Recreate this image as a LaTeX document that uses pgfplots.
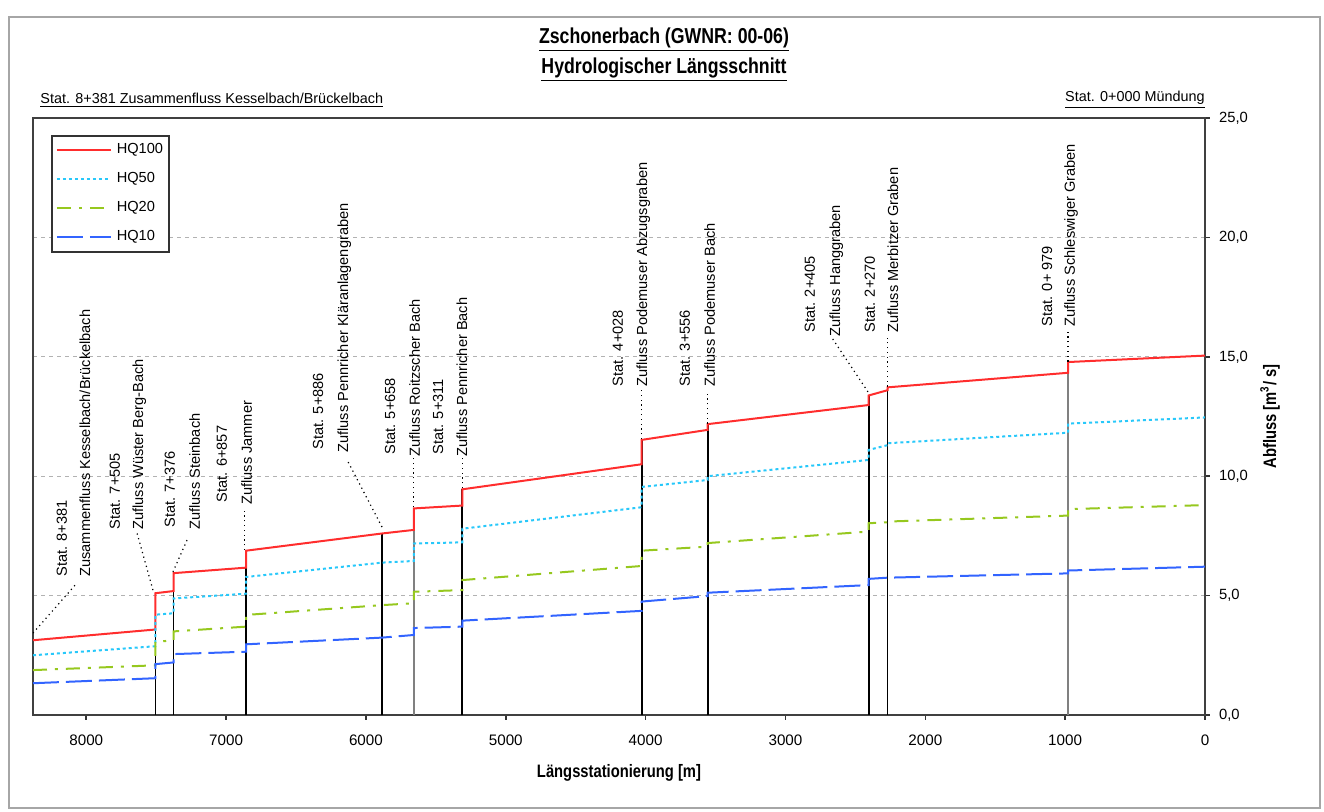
\documentclass[border=0pt]{standalone}
\usepackage{pgfplots}
\pgfplotsset{compat=1.18}
\usepackage{fontspec}
\setmainfont{Liberation Sans}
\newfontfamily\narrow{Liberation Sans}[FakeStretch=0.82]
\definecolor{hqred}{RGB}{255,45,45}
\definecolor{hqcyan}{RGB}{40,200,250}
\definecolor{hqgreen}{RGB}{150,200,30}
\definecolor{hqblue}{RGB}{50,100,255}
\newcommand\lblfont{\fontsize{7.3}{8.8}\selectfont}
\newcommand\stlab[6]{%
  \node[rotate=90,anchor=base west,inner sep=0pt,font=\lblfont] at (axis cs:#1,#2) {#3};
  \node[rotate=90,anchor=base west,inner sep=0pt,font=\lblfont] at (axis cs:#4,#5) {#6};}
\begin{document}
\begin{tikzpicture}[x=1pt,y=1pt]
\path[use as bounding box] (0,0) rectangle (662,406);
\draw[gray!70, line width=1pt] (4.5,2) rectangle (660,397.5);
\node[font=\narrow\bfseries\fontsize{10.8}{13}\selectfont] at (332,386) {\underline{Zschonerbach (GWNR: 00-06)}};
\node[font=\narrow\bfseries\fontsize{10.8}{13}\selectfont] at (332,371) {\underline{Hydrologischer Längsschnitt}};
\node[anchor=west,inner sep=0pt,font=\fontsize{7.2}{8.6}\selectfont] at (20,356) {\underline{Stat. 8+381 Zusammenfluss Kesselbach/Brückelbach}};
\node[anchor=east,inner sep=0pt,font=\fontsize{7.2}{8.6}\selectfont] at (602.5,356) {\underline{Stat. 0+000 Mündung}};
\begin{axis}[
  at={(16.5pt,48.5pt)}, anchor=south west,
  scale only axis, width=586pt, height=298.5pt,
  x dir=reverse, xmin=0, xmax=8381, ymin=0, ymax=25,
  xtick={0,1000,...,8000}, ytick={0,5,...,25},
  xtick pos=left, ytick pos=right, yticklabel pos=right,
  tick align=outside, major tick length=2.5pt,
  tick style={black!80, line width=0.8pt},
  axis line style={black!75, line width=0.9pt},
  ymajorgrids, grid style={gray!60, dash pattern=on 2pt off 2pt, line width=0.6pt},
  /pgf/number format/assume math mode=true,
  xticklabel style={/pgf/number format/1000 sep={}, font=\fontsize{7.6}{9}\selectfont},
  yticklabel style={/pgf/number format/.cd, fixed, fixed zerofill, precision=1, use comma, /tikz/.cd, font=\fontsize{7.4}{9}\selectfont},
  xticklabel shift=4pt, yticklabel shift=1pt,
  xlabel={Längsstationierung [m]},
  xlabel style={at={(axis description cs:0.5,0)}, anchor=center, yshift=-29pt, font=\narrow\bfseries\fontsize{9}{11}\selectfont},
  ylabel={Abfluss [m\textsuperscript{3}/ s]},
  ylabel style={at={(axis description cs:1.0555,0.5)}, anchor=center, font=\narrow\bfseries\fontsize{9}{11}\selectfont},
  legend style={at={(rel axis cs:0.0154,0.9715)}, anchor=north west, draw=black!80, line width=0.8pt,
    font=\fontsize{7.3}{8.7}\selectfont, inner xsep=2pt, inner ysep=3pt, row sep=5.9pt,
    nodes={inner sep=1pt}, cells={anchor=west},
    /tikz/every odd column/.append style={column sep=1.5pt}},
  legend image code/.code={\draw[#1] (0pt,0pt) -- (27pt,0pt);},
]
% station lines
\addplot[ycomb, black, line width=0.9pt, mark=none, forget plot] coordinates {
(7505,5.10) (7376,5.94) (6857,6.88) (5886,7.60) (5311,9.45) (4028,11.52) (3556,12.18) (2405,13.38) (2270,13.72)};
\addplot[ycomb, gray, line width=0.9pt, mark=none, forget plot] coordinates {
(5658,8.65) (979,14.78)};
% series
\addplot[hqred, line width=1pt] coordinates {
(8381,3.13) (7505,3.58) (7505,5.10) (7376,5.19) (7376,5.94) (6857,6.17) (6857,6.88) (5886,7.60) (5658,7.75) (5658,8.65) (5311,8.77) (5311,9.45) (4028,10.50) (4028,11.52) (3556,11.94) (3556,12.18) (2405,12.98) (2405,13.38) (2270,13.60) (2270,13.72) (979,14.33) (979,14.78) (0,15.05)};
\addlegendentry{HQ100}
\addplot[hqcyan, line width=1pt, dash pattern=on 1.5pt off 1.5pt] coordinates {
(8381,2.50) (7505,2.88) (7505,4.20) (7376,4.26) (7376,4.88) (6857,5.08) (6857,5.78) (5886,6.38) (5658,6.45) (5658,7.18) (5311,7.23) (5311,7.80) (4028,8.70) (4028,9.55) (3556,9.84) (3556,10.00) (2405,10.68) (2405,11.10) (2270,11.30) (2270,11.38) (979,11.82) (979,12.20) (0,12.46)};
\addlegendentry{HQ50}
\addplot[hqgreen, line width=1pt, dash pattern=on 7pt off 4pt on 1.5pt off 4pt] coordinates {
(8381,1.88) (7505,2.08) (7505,3.07) (7376,3.12) (7376,3.50) (6857,3.70) (6857,4.19) (5886,4.60) (5658,4.68) (5658,5.16) (5311,5.23) (5311,5.65) (4028,6.24) (4028,6.88) (3556,7.05) (3556,7.20) (2405,7.68) (2405,8.03) (2270,8.07) (2270,8.10) (979,8.35) (979,8.62) (0,8.79)};
\addlegendentry{HQ20}
\addplot[hqblue, line width=1pt, dash pattern=on 13pt off 3.5pt] coordinates {
(8381,1.33) (7505,1.54) (7505,2.13) (7376,2.20) (7376,2.55) (6857,2.65) (6857,2.96) (5886,3.24) (5658,3.35) (5658,3.64) (5311,3.70) (5311,3.95) (4028,4.36) (4028,4.75) (3556,4.98) (3556,5.12) (2405,5.44) (2405,5.70) (2270,5.75) (979,5.93) (979,6.05) (0,6.21)};
\addlegendentry{HQ10}
% leader lines
\addplot[black, line width=0.6pt, dash pattern=on 0.6pt off 1.8pt, forget plot] coordinates {(8381,3.43) (8066,5.53)};
\addplot[black, line width=0.6pt, dash pattern=on 0.6pt off 1.8pt, forget plot] coordinates {(7523,5.23) (7637,7.62)};
\addplot[black, line width=0.6pt, dash pattern=on 0.6pt off 1.8pt, forget plot] coordinates {(7380,5.99) (7273,7.41)};
\addplot[black, line width=0.6pt, dash pattern=on 0.6pt off 1.8pt, forget plot] coordinates {(6870,6.90) (6870,8.70)};
\addplot[black, line width=0.6pt, dash pattern=on 0.6pt off 1.8pt, forget plot] coordinates {(5885,7.87) (6135,10.68)};
\addplot[black, line width=0.6pt, dash pattern=on 0.6pt off 1.8pt, forget plot] coordinates {(5658,8.70) (5658,10.75)};
\addplot[black, line width=0.6pt, dash pattern=on 0.6pt off 1.8pt, forget plot] coordinates {(5311,9.50) (5311,10.75)};
\addplot[black, line width=0.6pt, dash pattern=on 0.6pt off 1.8pt, forget plot] coordinates {(4028,11.55) (4028,13.60)};
\addplot[black, line width=0.6pt, dash pattern=on 0.6pt off 1.8pt, forget plot] coordinates {(3556,12.20) (3556,13.60)};
\addplot[black, line width=0.6pt, dash pattern=on 0.6pt off 1.8pt, forget plot] coordinates {(2410,13.53) (2667,15.79)};
\addplot[black, line width=0.6pt, dash pattern=on 0.6pt off 1.8pt, forget plot] coordinates {(2270,13.75) (2270,15.80)};
\addplot[black, line width=0.6pt, dash pattern=on 0.6pt off 1.8pt, forget plot] coordinates {(979,14.80) (979,16.10)};
% labels
\stlab{8138}{5.78}{Stat. 8+381}{7973}{5.78}{Zusammenfluss Kesselbach/Brückelbach}
\stlab{7759}{7.75}{Stat. 7+505}{7594}{7.75}{Zufluss Wüster Berg-Bach}
\stlab{7366}{7.83}{Stat. 7+376}{7187}{7.75}{Zufluss Steinbach}
\stlab{6994}{8.89}{Stat. 6+857}{6815}{8.79}{Zufluss Jammer}
\stlab{6307}{11.10}{Stat. 5+886}{6128}{10.97}{Zufluss Pennricher Kläranlagengraben}
\stlab{5792}{10.89}{Stat. 5+658}{5614}{10.80}{Zufluss Roitzscher Bach}
\stlab{5449}{10.89}{Stat. 5+311}{5277}{10.80}{Zufluss Pennricher Bach}
\stlab{4162}{13.74}{Stat. 4+028}{3990}{13.74}{Zufluss Podemuser Abzugsgraben}
\stlab{3683}{13.74}{Stat. 3+556}{3504}{13.74}{Zufluss Podemuser Bach}
\stlab{2789}{16.00}{Stat. 2+405}{2610}{15.83}{Zufluss Hanggraben}
\stlab{2360}{16.00}{Stat. 2+270}{2195}{16.00}{Zufluss Merbitzer Graben}
\stlab{1094}{16.25}{Stat. 0+ 979}{930}{16.25}{Zufluss Schleswiger Graben}
\end{axis}
\end{tikzpicture}
\end{document}
